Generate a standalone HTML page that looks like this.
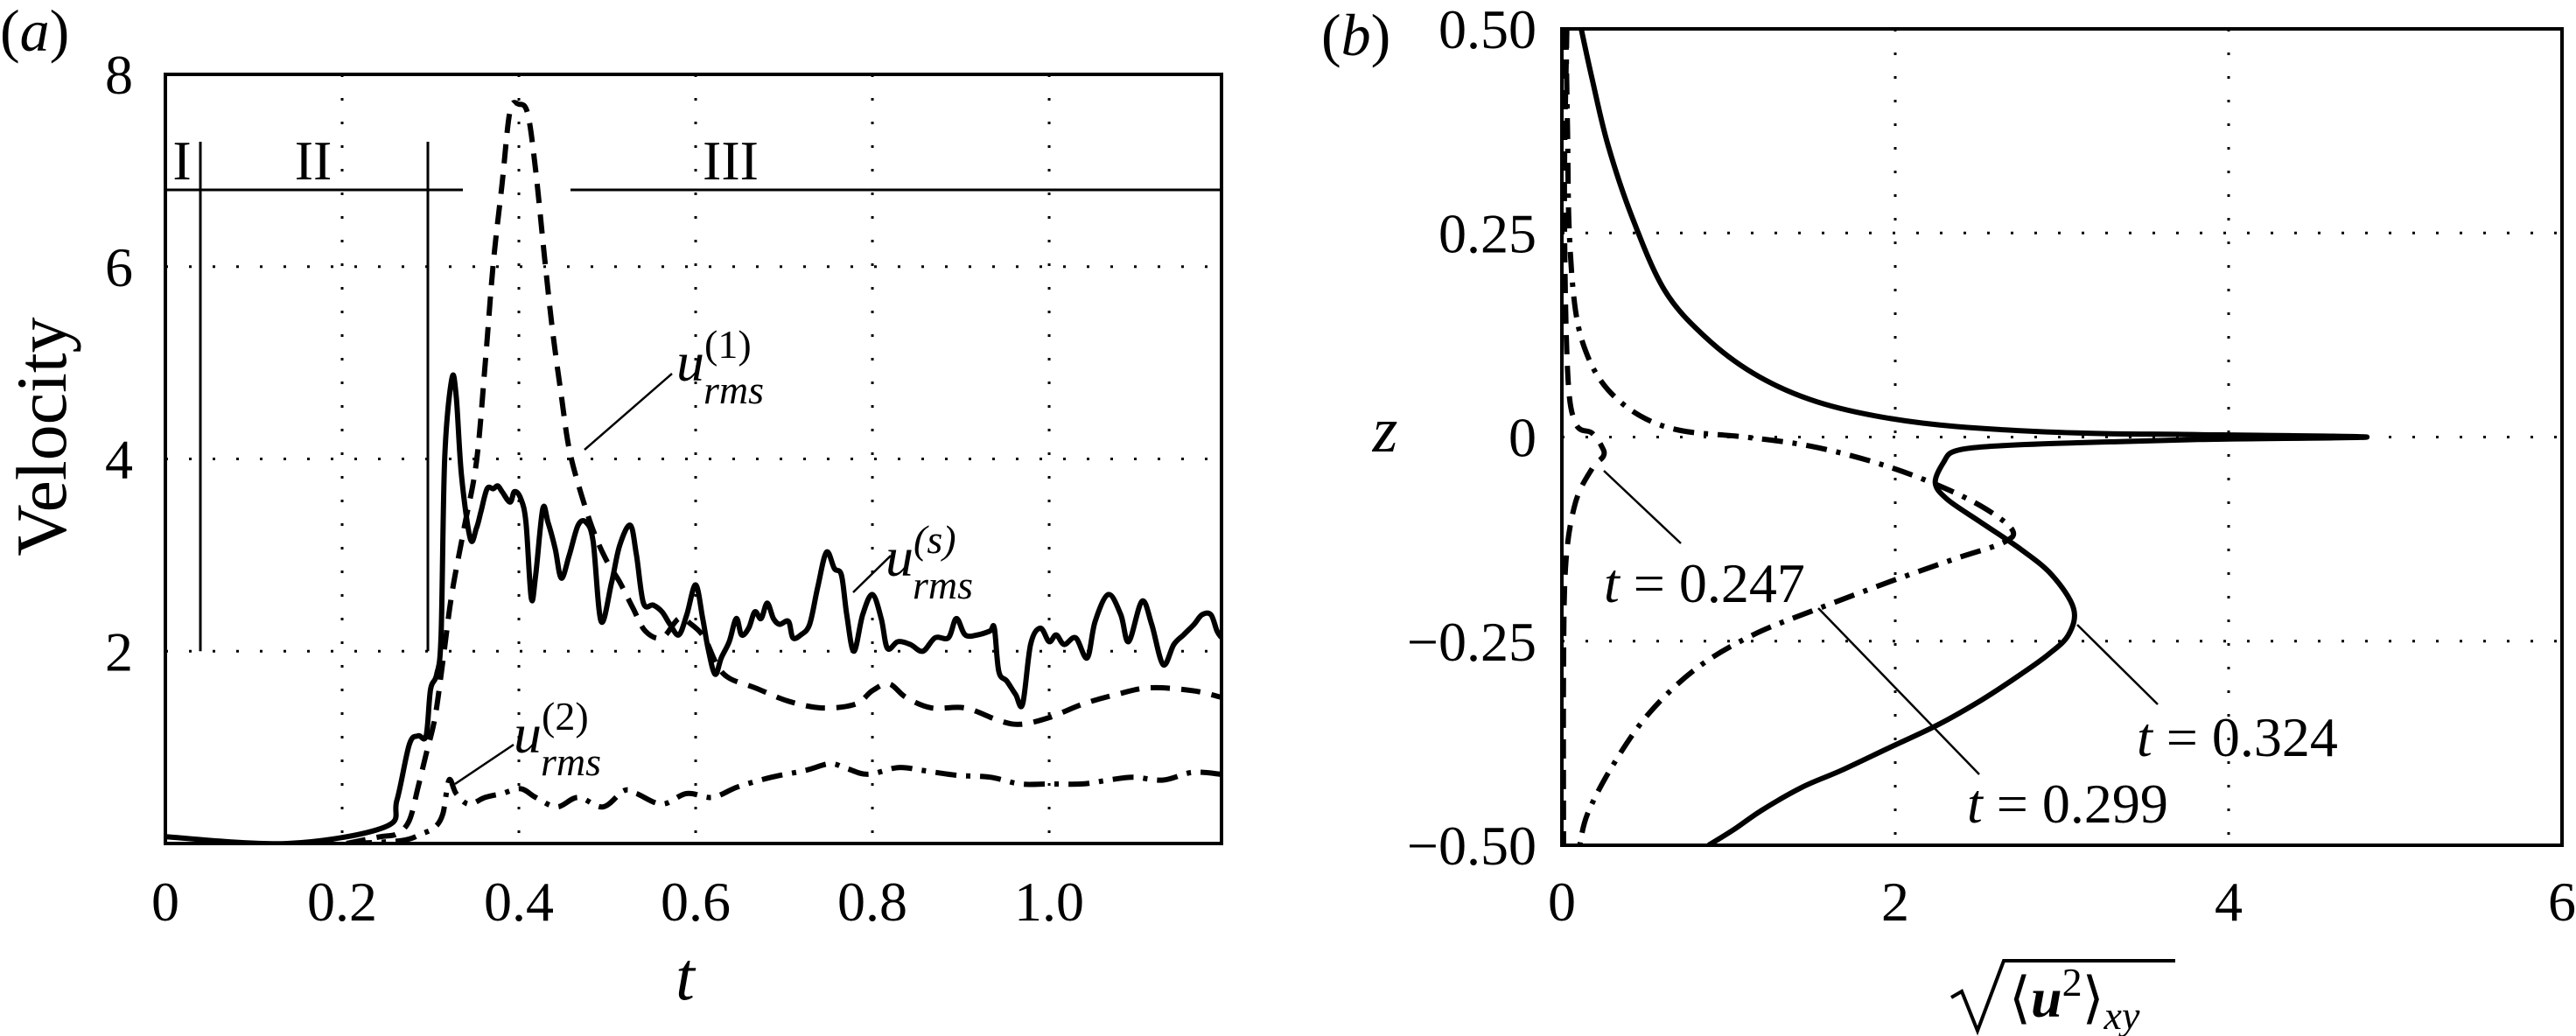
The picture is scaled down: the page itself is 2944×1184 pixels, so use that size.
<!DOCTYPE html>
<html><head><meta charset="utf-8"><style>
html,body{margin:0;padding:0;background:#fff;}
svg{display:block;}
svg text, svg tspan{font-family:"Liberation Serif","DejaVu Serif",serif !important;}
</style></head><body>
<svg id="fig" width="2944" height="1184" viewBox="0 0 2944 1184" xmlns="http://www.w3.org/2000/svg">
<g id="pa"></g>
<g id="pb"></g>
</svg>
<script>
// ---------- Panel (a) data ----------
const aXTicks = [0, 0.2, 0.4, 0.6, 0.8, 1.0];
const aXTickLabels = ["0", "0.2", "0.4", "0.6", "0.8", "1.0"];
const aYTicks = [2, 4, 6, 8];
const aYTickLabels = ["2", "4", "6", "8"];
const usT = [0,0.138,0.248,0.262,0.276,0.286,0.295,0.30,0.307,0.312,0.316,0.324,0.329,0.335,0.345,0.352,0.357,0.364,0.371,0.376,0.381,0.39,0.395,0.402,0.408,0.414,0.419,0.427,0.433,0.441,0.448,0.457,0.467,0.476,0.484,0.493,0.505,0.514,0.526,0.533,0.541,0.552,0.562,0.571,0.581,0.59,0.6,0.608,0.614,0.622,0.629,0.638,0.646,0.652,0.660,0.667,0.674,0.681,0.688,0.695,0.705,0.71,0.719,0.729,0.738,0.748,0.757,0.765,0.771,0.779,0.789,0.8,0.81,0.817,0.829,0.843,0.857,0.871,0.886,0.895,0.905,0.919,0.933,0.938,0.943,0.952,0.962,0.97,0.979,0.99,1.0,1.008,1.017,1.03,1.043,1.052,1.067,1.081,1.09,1.105,1.116,1.129,1.141,1.152,1.164,1.173,1.183,1.19,1.195];
const usV = [0.07,0,0.17,0.45,1.03,1.12,1.12,1.6,1.76,2.17,4.0,4.83,4.66,3.83,3.17,3.28,3.45,3.69,3.69,3.72,3.66,3.55,3.66,3.59,3.34,2.55,2.79,3.48,3.34,3.07,2.76,3.0,3.31,3.34,3.14,2.31,2.72,3.10,3.31,3.0,2.5,2.48,2.41,2.28,2.17,2.38,2.69,2.34,2.03,1.76,1.93,2.1,2.34,2.17,2.24,2.41,2.34,2.5,2.34,2.28,2.31,2.14,2.17,2.28,2.66,3.03,2.86,2.79,2.38,2.0,2.38,2.59,2.34,2.03,2.1,2.07,2.0,2.14,2.14,2.34,2.17,2.17,2.21,2.24,1.79,1.69,1.55,1.45,2.07,2.24,2.10,2.17,2.07,2.14,1.93,2.31,2.59,2.38,2.10,2.52,2.28,1.86,2.07,2.17,2.28,2.38,2.38,2.21,2.14];
const u1T = [0.205,0.243,0.262,0.276,0.286,0.295,0.305,0.314,0.324,0.338,0.352,0.362,0.371,0.381,0.39,0.4,0.41,0.419,0.429,0.438,0.448,0.457,0.471,0.486,0.5,0.514,0.529,0.543,0.562,0.581,0.595,0.61,0.624,0.638,0.667,0.705,0.743,0.781,0.8,0.819,0.838,0.867,0.905,0.943,0.967,1.0,1.038,1.076,1.114,1.162,1.195];
const u1V = [0,0.07,0.1,0.24,0.59,0.93,1.31,1.9,2.59,3.28,3.97,5.0,6.03,6.86,7.62,7.69,7.59,7.0,6.1,5.34,4.66,4.1,3.62,3.21,2.93,2.72,2.45,2.21,2.14,2.34,2.28,2.14,1.86,1.72,1.62,1.48,1.41,1.45,1.59,1.66,1.52,1.41,1.41,1.28,1.24,1.31,1.45,1.55,1.62,1.59,1.52];
const u2T = [0.21,0.267,0.29,0.305,0.314,0.321,0.329,0.343,0.362,0.381,0.402,0.419,0.443,0.467,0.495,0.519,0.533,0.562,0.59,0.619,0.648,0.686,0.724,0.752,0.771,0.795,0.829,0.857,0.895,0.933,0.967,1.0,1.038,1.067,1.095,1.129,1.162,1.195];
const u2V = [0,0.03,0.1,0.17,0.31,0.66,0.52,0.41,0.48,0.52,0.57,0.48,0.38,0.48,0.38,0.55,0.52,0.41,0.52,0.48,0.59,0.69,0.76,0.83,0.78,0.72,0.79,0.76,0.71,0.69,0.62,0.62,0.62,0.66,0.69,0.66,0.74,0.72];

// ---------- Panel (b) data ----------
const bXTicks = [0, 2, 4, 6];
const bXTickLabels = ["0", "2", "4", "6"];
const bYTicks = [0.5, 0.25, 0, -0.25, -0.5];
const bYTickLabels = ["0.50", "0.25", "0", "\u22120.25", "\u22120.50"];
const p324X = [0.116,0.18,0.276,0.422,0.616,0.858,1.149,1.489,1.877,2.36,3.09,3.82,4.83,3.82,3.09,2.6,2.36,2.29,2.24,2.31,2.51,2.75,2.94,3.07,3.04,2.92,2.75,2.51,2.26,1.97,1.68,1.44,1.2,1.03,0.88];
const p324Z = [0.5,0.44,0.358,0.269,0.18,0.123,0.078,0.046,0.026,0.013,0.005,0.003,0.0,-0.003,-0.007,-0.011,-0.017,-0.031,-0.056,-0.076,-0.104,-0.137,-0.169,-0.21,-0.242,-0.266,-0.291,-0.323,-0.352,-0.38,-0.408,-0.429,-0.457,-0.481,-0.5];
const p299X = [0.024,0.034,0.044,0.082,0.155,0.276,0.47,0.713,1.1,1.49,1.877,2.22,2.51,2.7,2.65,2.36,1.97,1.54,1.15,0.81,0.52,0.3,0.155,0.107];
const p299Z = [0.5,0.374,0.253,0.155,0.099,0.058,0.026,0.008,0,-0.011,-0.031,-0.056,-0.084,-0.113,-0.129,-0.149,-0.177,-0.21,-0.242,-0.283,-0.339,-0.404,-0.461,-0.5];
const p247X = [0.03,0.015,0.034,0.082,0.18,0.238,0.25,0.18,0.082,0.024,0.01,0.01];
const p247Z = [0.5,0.293,0.082,0.017,0.005,-0.011,-0.023,-0.039,-0.08,-0.153,-0.28,-0.5];

const NS = "http://www.w3.org/2000/svg";
function mk(parent, tag, attrs, text) {
  const e = document.createElementNS(NS, tag);
  for (const k in attrs) e.setAttribute(k, attrs[k]);
  if (text !== undefined) e.textContent = text;
  parent.appendChild(e);
  return e;
}

// smooth path via Catmull-Rom
function pathFrom(xs, ys, fx, fy) {
  const P = xs.map((x, i) => [fx(x), fy(ys[i])]);
  let d = 'M' + P[0][0].toFixed(1) + ' ' + P[0][1].toFixed(1);
  for (let i = 0; i < P.length - 1; i++) {
    const p0 = P[Math.max(0, i - 1)], p1 = P[i], p2 = P[i + 1], p3 = P[Math.min(P.length - 1, i + 2)];
    const c1 = [p1[0] + (p2[0] - p0[0]) / 6, p1[1] + (p2[1] - p0[1]) / 6];
    const c2 = [p2[0] - (p3[0] - p1[0]) / 6, p2[1] - (p3[1] - p1[1]) / 6];
    d += ' C' + c1[0].toFixed(1) + ' ' + c1[1].toFixed(1) + ' ' + c2[0].toFixed(1) + ' ' + c2[1].toFixed(1) + ' ' + p2[0].toFixed(1) + ' ' + p2[1].toFixed(1);
  }
  return d;
}

// ---- Panel a axes ----
const A = {l:189, r:1396, t:85, b:964, xmax:1.195, ymax:8};
const ax = v => A.l + v / A.xmax * (A.r - A.l);
const ay = v => A.b - v / A.ymax * (A.b - A.t);
const pa = document.getElementById('pa');

aXTicks.forEach((v, i) => {
  if (v > 0) {
    const g = mk(pa, 'line', {x1:ax(v), x2:ax(v), y1:A.t, y2:A.b, stroke:'#000', 'stroke-width':3, 'stroke-dasharray':'3 24'});
    
    
  }
  const t = mk(pa, 'text', {x:ax(v), y:1052, 'font-size':64, 'text-anchor':'middle'}, aXTickLabels[i]);
  
  
});
aYTicks.forEach((v, i) => {
  if (v < A.ymax) {
    const g = mk(pa, 'line', {x1:A.l, x2:A.r, y1:ay(v), y2:ay(v), stroke:'#000', 'stroke-width':3, 'stroke-dasharray':'3 24'});
    
    
  }
  const t = mk(pa, 'text', {x:152, y:ay(v) + 22, 'font-size':64, 'text-anchor':'end'}, aYTickLabels[i]);
  
  
});

const regH1 = mk(pa, 'line', {x1:A.l, x2:529, y1:217, y2:217, stroke:'#000', 'stroke-width':3});


const regH2 = mk(pa, 'line', {x1:652, x2:A.r, y1:217, y2:217, stroke:'#000', 'stroke-width':3});


const regV1 = mk(pa, 'line', {x1:229, x2:229, y1:162, y2:ay(2), stroke:'#000', 'stroke-width':3});


const regV2 = mk(pa, 'line', {x1:489, x2:489, y1:162, y2:ay(2), stroke:'#000', 'stroke-width':3});


[['I',208],['II',358],['III',835]].forEach(r => {
  const t = mk(pa, 'text', {x:r[1], y:205, 'font-size':64, 'text-anchor':'middle'}, r[0]);
  
  
});

const clipA = mk(pa, 'clipPath', {id:'clipA'});
mk(clipA, 'rect', {x:A.l, y:A.t, width:A.r - A.l, height:A.b - A.t});

const sU1 = mk(pa, 'path', {d:pathFrom(u1T, u1V, ax, ay), fill:'none', stroke:'#000', 'stroke-width':6, 'stroke-dasharray':'22 13', 'clip-path':'url(#clipA)'});


const sU2 = mk(pa, 'path', {d:pathFrom(u2T, u2V, ax, ay), fill:'none', stroke:'#000', 'stroke-width':6, 'stroke-dasharray':'24 11 5 11', 'clip-path':'url(#clipA)'});


const sUs = mk(pa, 'path', {d:pathFrom(usT, usV, ax, ay), fill:'none', stroke:'#000', 'stroke-width':6, 'stroke-linejoin':'round', 'clip-path':'url(#clipA)'});



const boxA = mk(pa, 'rect', {x:A.l, y:A.t, width:A.r - A.l, height:A.b - A.t, fill:'none', stroke:'#000', 'stroke-width':4});



function annot(parent, x1, y1, x2, y2, name) {
  const l = mk(parent, 'line', {x1:x1, y1:y1, x2:x2, y2:y2, stroke:'#000', 'stroke-width':2.5});
  
  
}
annot(pa, 668, 514, 768, 427, 'u1-leader-line');
annot(pa, 975, 677, 1018, 635, 'us-leader-line');
annot(pa, 520, 896, 587, 851, 'u2-leader-line');
function ulabel(parent, x, y, sup, name) {
  const t = mk(parent, 'text', {x:x, y:y, 'font-size':64, 'font-style':'italic'});
  
  
  mk(t, 'tspan', {}, 'u');
  mk(t, 'tspan', {dy:-26, 'font-size':46, 'font-style':sup === 's' ? 'italic' : 'normal'}, '(' + sup + ')');
  mk(t, 'tspan', {x:x + 31, dy:52, 'font-size':46}, 'rms');
}
ulabel(pa, 773, 435, '1', 'u1-rms-label');
ulabel(pa, 1012, 658, 's', 'us-rms-label');
ulabel(pa, 587, 860, '2', 'u2-rms-label');

const xla = mk(pa, 'text', {x:783, y:1142, 'font-size':78, 'font-style':'italic', 'text-anchor':'middle'}, 't');


const yla = mk(pa, 'text', {x:0, y:0, 'font-size':82, 'text-anchor':'middle', transform:'translate(75 499) rotate(-90)'}, 'Velocity');


const pla = mk(pa, 'text', {x:0, y:58, 'font-size':68}, '');


mk(pla, 'tspan', {}, '(');
mk(pla, 'tspan', {'font-style':'italic'}, 'a');
mk(pla, 'tspan', {}, ')');

// ---- Panel b ----
const B = {l:1785, r:2928, t:33, b:966, xmax:6, zmin:-0.5, zmax:0.5};
const bx = v => B.l + v / B.xmax * (B.r - B.l);
const by = v => B.b - (v - B.zmin) / (B.zmax - B.zmin) * (B.b - B.t);
const pb = document.getElementById('pb');

bXTicks.forEach((v, i) => {
  if (v > 0 && v < B.xmax) {
    const g = mk(pb, 'line', {x1:bx(v), x2:bx(v), y1:B.t, y2:B.b, stroke:'#000', 'stroke-width':3, 'stroke-dasharray':'3 24'});
    
    
  }
  const t = mk(pb, 'text', {x:bx(v), y:1052, 'font-size':64, 'text-anchor':'middle'}, bXTickLabels[i]);
  
  
});
bYTicks.forEach((v, i) => {
  if (v > B.zmin && v < B.zmax) {
    const g = mk(pb, 'line', {x1:B.l, x2:B.r, y1:by(v), y2:by(v), stroke:'#000', 'stroke-width':3, 'stroke-dasharray':'3 24'});
    
    
  }
  const t = mk(pb, 'text', {x:1756, y:by(v) + 22, 'font-size':64, 'text-anchor':'end'}, bYTickLabels[i]);
  
  
});
const clipB = mk(pb, 'clipPath', {id:'clipB'});
mk(clipB, 'rect', {x:B.l, y:B.t, width:B.r - B.l, height:B.b - B.t});

const s247 = mk(pb, 'path', {d:pathFrom(p247X, p247Z, bx, by), fill:'none', stroke:'#000', 'stroke-width':6, 'stroke-dasharray':'22 13', 'clip-path':'url(#clipB)'});


const s299 = mk(pb, 'path', {d:pathFrom(p299X, p299Z, bx, by), fill:'none', stroke:'#000', 'stroke-width':6, 'stroke-dasharray':'24 11 5 11', 'clip-path':'url(#clipB)'});


const s324 = mk(pb, 'path', {d:pathFrom(p324X, p324Z, bx, by), fill:'none', stroke:'#000', 'stroke-width':6, 'stroke-linejoin':'round', 'clip-path':'url(#clipB)'});



const boxB = mk(pb, 'rect', {x:B.l, y:B.t, width:B.r - B.l, height:B.b - B.t, fill:'none', stroke:'#000', 'stroke-width':4});



annot(pb, 1833, 538, 1921, 621, 't247-leader-line');
annot(pb, 2078, 695, 2262, 885, 't299-leader-line');
annot(pb, 2374, 714, 2466, 805, 't324-leader-line');
function tlabel(parent, x, y, val, name) {
  const t = mk(parent, 'text', {x:x, y:y, 'font-size':64});
  
  
  mk(t, 'tspan', {'font-style':'italic'}, 't');
  mk(t, 'tspan', {}, ' = ' + val);
}
tlabel(pb, 1833, 688, '0.247', 't247-label');
tlabel(pb, 2248, 940, '0.299', 't299-label');
tlabel(pb, 2442, 864, '0.324', 't324-label');

const zl = mk(pb, 'text', {x:1583, y:516, 'font-size':74, 'font-style':'italic', 'text-anchor':'middle'}, 'z');


const xlb = mk(pb, 'g', {});


mk(xlb, 'path', {d:'M2230 1140 L2242 1133 L2260 1178 L2290 1098 L2486 1098', fill:'none', stroke:'#000', 'stroke-width':4});
const xt = mk(xlb, 'text', {x:2296, y:1162, 'font-size':64});
mk(xt, 'tspan', {}, '\u27E8');
mk(xt, 'tspan', {'font-weight':'bold', 'font-style':'italic'}, 'u');
mk(xt, 'tspan', {dy:-24, 'font-size':46}, '2');
mk(xt, 'tspan', {dy:24}, '\u27E9');
mk(xt, 'tspan', {dy:14, 'font-size':46, 'font-style':'italic'}, 'xy');

const plb = mk(pb, 'text', {x:1510, y:63, 'font-size':68});


mk(plb, 'tspan', {}, '(');
mk(plb, 'tspan', {'font-style':'italic'}, 'b');
mk(plb, 'tspan', {}, ')');
</script>
</body></html>
